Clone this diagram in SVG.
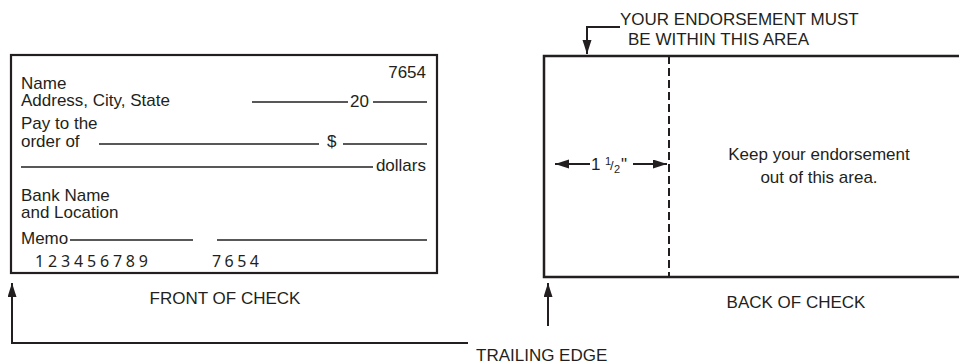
<svg xmlns="http://www.w3.org/2000/svg" width="959" height="364" viewBox="0 0 959 364">
<style>
text{font-family:"Liberation Sans",Arial,sans-serif;font-size:17px;fill:#231f20}
.r{text-anchor:end}
.c{text-anchor:middle}
.mono{font-family:"Noto Sans","DejaVu Sans",sans-serif;font-size:16px}
.box{fill:none;stroke:#231f20;stroke-width:2.2}
.ln{fill:none;stroke:#231f20;stroke-width:1.5}
.edge{fill:none;stroke:#231f20;stroke-width:2.5}
.dash{fill:none;stroke:#231f20;stroke-width:2;stroke-dasharray:8 4}
.conn{fill:none;stroke:#231f20;stroke-width:2}
</style>
<defs>
<marker id="ah" markerUnits="userSpaceOnUse" markerWidth="15" markerHeight="10" refX="14" refY="4.5" orient="auto">
<path d="M0,0 L14,4.5 L0,9 z" fill="#231f20"/>
</marker>
</defs>
<g id="front-check">
<rect class="box" x="11" y="55" width="426" height="218"/>
<text class="r" x="426" y="78">7654</text>
<text x="21" y="89"><tspan x="21" y="89">Name</tspan><tspan x="21" y="106">Address, City, State</tspan></text>
<line class="ln" x1="252" y1="102" x2="348" y2="102"/>
<text x="350" y="107">20</text>
<line class="ln" x1="373" y1="102" x2="427" y2="102"/>
<text x="21" y="129"><tspan x="21" y="129">Pay to the</tspan><tspan x="21" y="147">order of</tspan></text>
<line class="ln" x1="99" y1="144" x2="319" y2="144"/>
<text x="327" y="147">$</text>
<line class="ln" x1="343" y1="144" x2="427" y2="144"/>
<line class="ln" x1="21" y1="167" x2="373" y2="167"/>
<text class="r" x="426" y="171">dollars</text>
<text x="21" y="201"><tspan x="21" y="201">Bank Name</tspan><tspan x="21" y="218">and Location</tspan></text>
<text x="21" y="244">Memo</text>
<line class="ln" x1="70" y1="240" x2="193" y2="240"/>
<line class="ln" x1="217" y1="240" x2="427" y2="240"/>
<text class="mono" x="35" y="267" textLength="113" lengthAdjust="spacing">123456789</text>
<text class="mono" x="212" y="267" textLength="47" lengthAdjust="spacing">7654</text>
</g>
<g id="front-label">
<text class="c" x="225" y="304">FRONT OF CHECK</text>
</g>
<g id="back-check">
<path class="edge" d="M959,56 H544 V277 H959"/>
<line class="dash" x1="669" y1="56" x2="669" y2="277"/>
<text class="c" x="819" y="160"><tspan x="819" y="160">Keep your endorsement</tspan><tspan x="819" y="183">out of this area.</tspan></text>
<g id="dimension">
<line class="conn" x1="590" y1="164" x2="555" y2="164" marker-end="url(#ah)"/>
<text x="591" y="170">1</text>
<text x="605" y="165" style="font-size:11px">1</text>
<text x="610" y="170" style="font-size:13px">/</text>
<text x="614" y="173" style="font-size:11px">2</text>
<text x="621" y="170">"</text>
<line class="conn" x1="633" y1="164" x2="667" y2="164" marker-end="url(#ah)"/>
</g>
</g>
<g id="back-label">
<text class="c" x="796" y="308">BACK OF CHECK</text>
</g>
<g id="endorse-label">
<text x="620" y="25"><tspan x="620" y="25">YOUR ENDORSEMENT MUST</tspan><tspan x="628" y="45">BE WITHIN THIS AREA</tspan></text>
</g>
<g id="trailing-label">
<text x="476" y="361">TRAILING EDGE</text>
</g>
<g id="connectors">
<path class="conn" d="M620,27 H587 V54" marker-end="url(#ah)"/>
<path class="conn" d="M468,343 H12 V283" marker-end="url(#ah)"/>
<line class="conn" x1="548" y1="326" x2="548" y2="283" marker-end="url(#ah)"/>
</g>
</svg>
